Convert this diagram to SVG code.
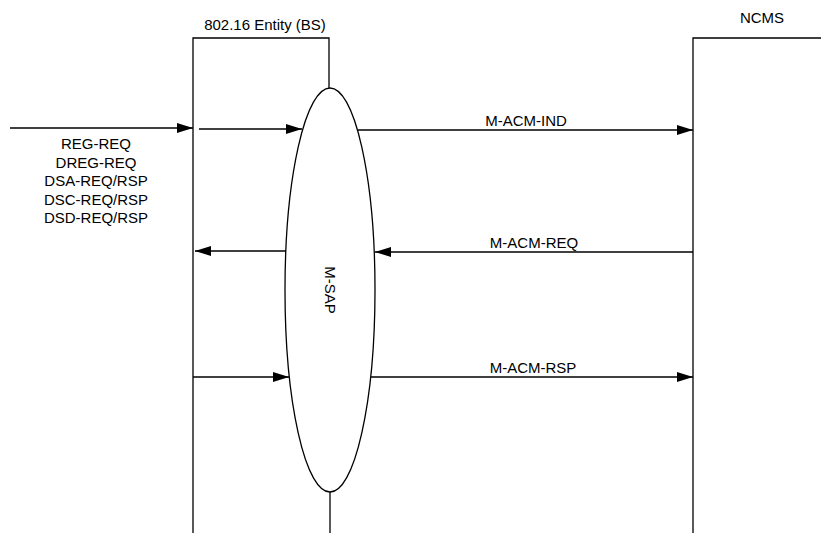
<svg xmlns="http://www.w3.org/2000/svg" width="821" height="533" viewBox="0 0 821 533">
<style>
.ln{stroke:#000;stroke-width:1.3;fill:none}
.ar{stroke:#000;stroke-width:1.3;fill:none;marker-end:url(#ah)}
.t{font-family:"Liberation Sans",Arial,sans-serif;font-size:15px;fill:#000;text-anchor:middle}
</style>
<defs>
<marker id="ah" markerUnits="userSpaceOnUse" markerWidth="18" markerHeight="12" refX="16" refY="5" orient="auto">
<path d="M0,0 L16,5 L0,10 Z" fill="#000"/>
</marker>
</defs>
<rect width="821" height="533" fill="#fff"/>
<g id="bs">
<path class="ln" d="M193,533 V38 H329 V88"/>
<path class="ln" d="M330,492 V533"/>
<text class="t" x="265" y="30">802.16 Entity (BS)</text>
</g>
<g id="msap">
<ellipse class="ln" cx="330" cy="290" rx="45" ry="202"/>
<text class="t" x="0" y="0" transform="translate(325,290) rotate(90)">M-SAP</text>
</g>
<g id="ncms">
<path class="ln" d="M693,533 V38 H821"/>
<text class="t" x="762" y="23">NCMS</text>
</g>
<g id="connectors">
<line class="ar" x1="10" y1="128" x2="193" y2="128"/>
<line class="ar" x1="199" y1="129" x2="302" y2="129"/>
<line class="ar" x1="358" y1="130" x2="693" y2="130"/>
<line class="ar" x1="693" y1="252" x2="375" y2="252"/>
<line class="ar" x1="286" y1="251" x2="195" y2="251"/>
<line class="ar" x1="193" y1="377" x2="289" y2="377"/>
<line class="ar" x1="371" y1="377" x2="693" y2="377"/>
</g>
<g id="labels">
<text class="t" x="96" y="149">REG-REQ</text>
<text class="t" x="96" y="167.5">DREG-REQ</text>
<text class="t" x="96" y="186">DSA-REQ/RSP</text>
<text class="t" x="96" y="204.5">DSC-REQ/RSP</text>
<text class="t" x="96" y="223">DSD-REQ/RSP</text>
<text class="t" x="526" y="126">M-ACM-IND</text>
<text class="t" x="534" y="248">M-ACM-REQ</text>
<text class="t" x="533" y="373">M-ACM-RSP</text>
</g>
</svg>
